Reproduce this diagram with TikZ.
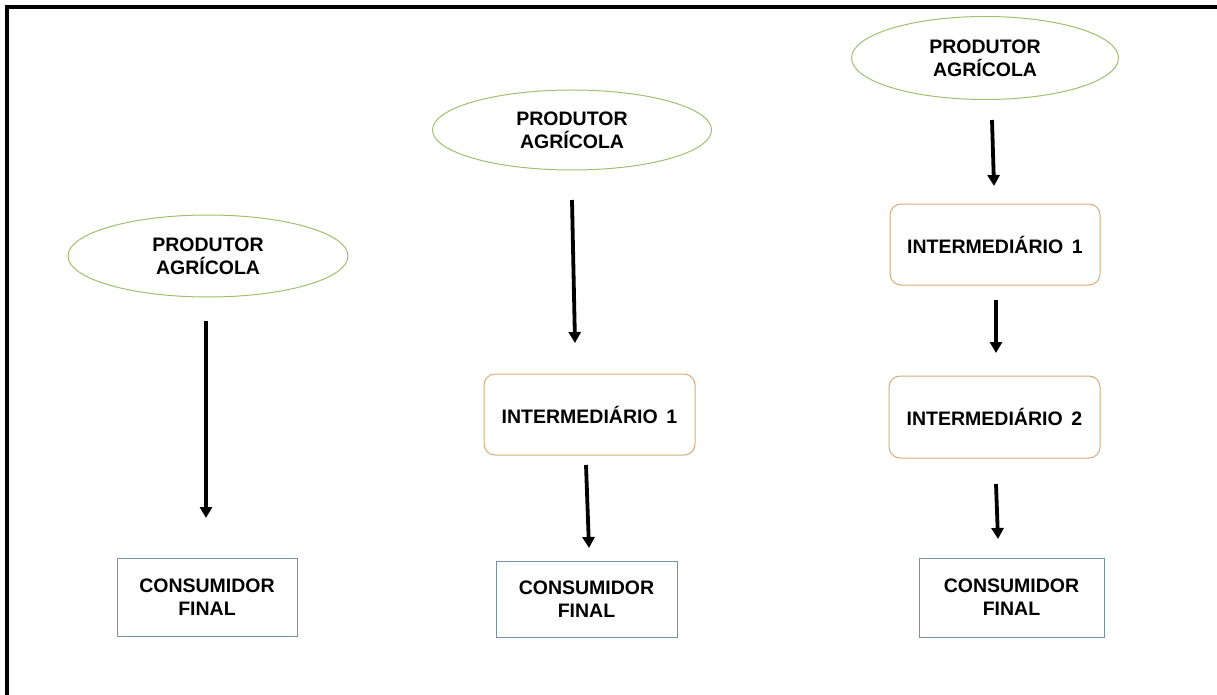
\documentclass[tikz,border=0pt]{standalone}
\usepackage{fontspec}
\setmainfont{Liberation Sans}
\usetikzlibrary{shapes.geometric,arrows.meta}
\definecolor{ellgreen}{RGB}{160,190,110}
\definecolor{intbrown}{RGB}{215,170,120}
\definecolor{consblue}{RGB}{120,145,170}
\tikzset{
  lbl/.style={font=\fontsize{19.5}{23}\selectfont\bfseries, align=center, inner sep=0pt},
  prod/.style={lbl, ellipse, draw=ellgreen, line width=1pt},
  inter/.style={lbl, draw=intbrown, line width=1pt, rounded corners=11pt},
  cons/.style={lbl, draw=consblue, line width=1pt},
  flow/.style={line width=3.8pt, -{Triangle[width=12pt,length=11pt]}},
}
\begin{document}
\begin{tikzpicture}[x=1pt,y=-1pt]
\useasboundingbox (0,0) rectangle (1217,695);
% frame
\draw[line width=3.5pt] (7,695) -- (7,7) -- (1217,7);

% column 1
\node[prod, minimum width=280pt, minimum height=82pt] (e1) at (208,256) {PRODUTOR\\AGRÍCOLA};
\node[cons, minimum width=180pt, minimum height=78pt] (c1) at (207,597) {CONSUMIDOR\\FINAL};
\coordinate (a1s) at (206,321);
\coordinate (a1e) at (206,518);
\draw[flow] (a1s) -- (a1e);

% column 2
\node[prod, minimum width=279pt, minimum height=80pt] (e2) at (572,130) {PRODUTOR\\AGRÍCOLA};
\node[inter, minimum width=211pt, minimum height=81pt] (i21) at (589.5,414.5) {INTERMEDIÁRIO\hspace{0.45em}1};
\node[cons, minimum width=181pt, minimum height=76pt] (c2) at (586.5,599) {CONSUMIDOR\\FINAL};
\coordinate (a2s) at (572,200);
\coordinate (a2e) at (575,343);
\coordinate (a3s) at (586,465);
\coordinate (a3e) at (589,548);
\draw[flow] (a2s) -- (a2e);
\draw[flow] (a3s) -- (a3e);

% column 3
\node[prod, minimum width=267pt, minimum height=83pt] (e3) at (985,58) {PRODUTOR\\AGRÍCOLA};
\node[inter, minimum width=210pt, minimum height=81pt] (i31) at (995,244.5) {INTERMEDIÁRIO\hspace{0.45em}1};
\node[inter, minimum width=211pt, minimum height=82pt] (i32) at (994.5,417) {INTERMEDIÁRIO\hspace{0.45em}2};
\node[cons, minimum width=185pt, minimum height=79pt] (c3) at (1011.5,597.5) {CONSUMIDOR\\FINAL};
\coordinate (a4s) at (992,120);
\coordinate (a4e) at (994,186);
\coordinate (a5s) at (996,300);
\coordinate (a5e) at (996,353);
\coordinate (a6s) at (996,484);
\coordinate (a6e) at (998,539);
\draw[flow] (a4s) -- (a4e);
\draw[flow] (a5s) -- (a5e);
\draw[flow] (a6s) -- (a6e);
\end{tikzpicture}
\end{document}
